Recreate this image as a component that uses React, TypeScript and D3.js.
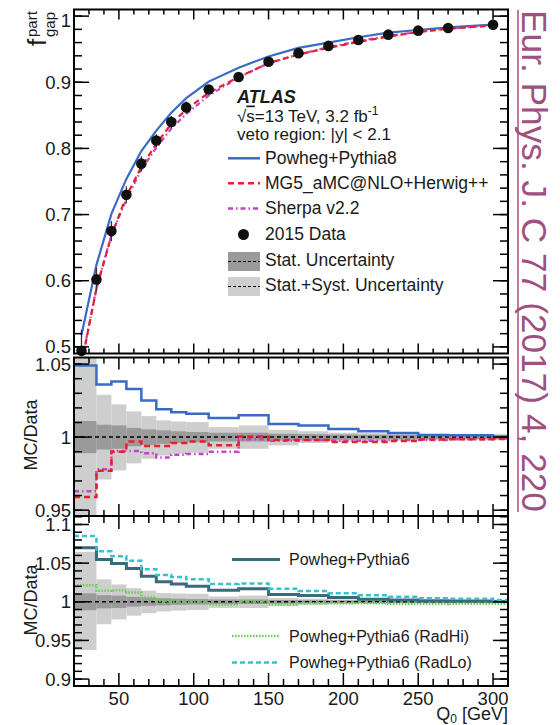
import React from 'react';
import * as d3 from 'd3';

// ---------- data ----------
const Q0 = [25, 35, 45, 55, 65, 75, 85, 95, 110, 130, 150, 170, 190, 210, 230, 250, 270, 300];
const binEdges = [20, 35, 45, 55, 65, 75, 85, 95, 110, 130, 150, 170, 190, 210, 230, 250, 270, 300, 310];

const fgapData = [0.494, 0.602, 0.675, 0.730, 0.777, 0.812, 0.840, 0.862, 0.889, 0.908, 0.931, 0.944, 0.955, 0.964, 0.972, 0.978, 0.982, 0.987];
const fgapPowhegPythia8 = [0.518, 0.624, 0.701, 0.754, 0.796, 0.827, 0.854, 0.876, 0.901, 0.922, 0.939, 0.952, 0.960, 0.968, 0.975, 0.979, 0.983, 0.987];
const fgapMG5Herwig = [0.474, 0.588, 0.668, 0.728, 0.772, 0.807, 0.837, 0.859, 0.884, 0.908, 0.929, 0.942, 0.952, 0.961, 0.969, 0.976, 0.981, 0.986];
const fgapSherpa = [0.476, 0.589, 0.669, 0.723, 0.768, 0.801, 0.830, 0.852, 0.880, 0.907, 0.929, 0.942, 0.953, 0.962, 0.970, 0.976, 0.981, 0.986];

const ratioPowhegPythia8 = [1.049, 1.036, 1.038, 1.033, 1.025, 1.019, 1.017, 1.016, 1.013, 1.015, 1.009, 1.008, 1.0055, 1.004, 1.0028, 1.0015, 1.0012, 1.0003];
const ratioMG5Herwig = [0.959, 0.977, 0.990, 0.997, 0.994, 0.994, 0.996, 0.997, 0.9945, 1.0005, 0.998, 0.998, 0.9967, 0.9967, 0.9973, 0.9984, 0.9985, 0.9987];
const ratioSherpa = [0.963, 0.978, 0.9905, 0.9905, 0.989, 0.986, 0.988, 0.9885, 0.990, 0.9985, 0.9975, 0.998, 0.9975, 0.9975, 0.998, 0.998, 0.9985, 0.999];

const ratioPowhegPythia6 = [1.070, 1.0547, 1.0496, 1.043, 1.033, 1.026, 1.023, 1.020, 1.015, 1.017, 1.0095, 1.008, 1.0055, 1.0034, 1.0022, 1.0014, 1.001, 1.0004];
const ratioPythia6RadHi = [1.0215, 1.0142, 1.015, 1.012, 1.0056, 1.0013, 1.000, 1.000, 0.9966, 1.001, 0.9966, 0.998, 0.998, 0.998, 0.997, 0.997, 0.9975, 0.9975];
const ratioPythia6RadLo = [1.085, 1.0655, 1.059, 1.053, 1.042, 1.0345, 1.032, 1.029, 1.023, 1.0237, 1.017, 1.014, 1.011, 1.0086, 1.0065, 1.0047, 1.004, 1.0022];

const statUnc = [0.011, 0.0085, 0.008, 0.0063, 0.0053, 0.0046, 0.004, 0.0035, 0.003, 0.003, 0.0023, 0.002, 0.0018, 0.0016, 0.0015, 0.0014, 0.0013, 0.0013];
const totUncUp = [0.0645, 0.029, 0.0224, 0.0176, 0.0144, 0.0114, 0.0107, 0.0103, 0.0068, 0.008, 0.005, 0.004, 0.003, 0.0027, 0.0024, 0.0022, 0.002, 0.002];
const totUncDown = [0.0625, 0.029, 0.0228, 0.018, 0.0148, 0.0126, 0.0114, 0.0107, 0.008, 0.008, 0.0057, 0.004, 0.003, 0.0027, 0.0024, 0.0022, 0.002, 0.002];

const xMajorTicks = [50, 100, 150, 200, 250, 300];
const xTickLabels = ['50', '100', '150', '200', '250', '300'];
const topYTicks = [0.5, 0.6, 0.7, 0.8, 0.9, 1.0];
const topYLabels = ['0.5', '0.6', '0.7', '0.8', '0.9', '1'];
const midYTicks = [0.95, 1.0, 1.05];
const midYLabels = ['0.95', '1', '1.05'];
const botYTicks = [0.9, 0.95, 1.0, 1.05, 1.1];
const botYLabels = ['0.9', '0.95', '1', '1.05', '1.1'];

// ---------- layout ----------
const FONT = "'Liberation Sans', Arial, Helvetica, sans-serif";
const X0 = 74, X1 = 508;
const x = d3.scaleLinear().domain([20, 310]).range([X0, X1]);
const P_TOP = { y0: 9.5, y1: 353.5 };
const P_MID = { y0: 357.5, y1: 516 };
const P_BOT = { y0: 516, y1: 686 };
const yTop = d3.scaleLinear().domain([0.49, 1.01]).range([P_TOP.y1, P_TOP.y0]);
const yMid = d3.scaleLinear().domain([0.946, 1.0545]).range([P_MID.y1, P_MID.y0]);
const yBot = d3.scaleLinear().domain([0.891, 1.111]).range([P_BOT.y1, P_BOT.y0]);

const C_BLUE = '#3a6bc4';
const C_RED = '#e8202a';
const C_MAG = '#c444c8';
const C_TEAL = '#3b6a7a';
const C_CYAN = '#36c2cc';
const C_GREEN = '#6acd58';
const C_DARK = '#9a9a9a';
const C_LIGHT = '#cecece';
const C_TXT = '#1a1a1a';

function stepPath(vals: number[], y: any) {
  const pts: [number, number][] = vals.map((v, i) => [binEdges[i], v]);
  pts.push([binEdges[binEdges.length - 1], vals[vals.length - 1]]);
  return d3.line<[number, number]>().x(d => x(d[0])).y(d => y(d[1])).curve(d3.curveStepAfter)(pts) || '';
}

function graphPath(vals: number[], y: any) {
  const pts: [number, number][] = vals.map((v, i) => [Q0[i], v]);
  return d3.line<[number, number]>().x(d => x(d[0])).y(d => y(d[1]))(pts) || '';
}

function Bands({ y }: { y: any }) {
  return (
    <g>
      {binEdges.slice(0, -1).map((e, i) => {
        const xa = x(e), xb = x(binEdges[i + 1]);
        return <rect key={'t' + i} x={xa} width={xb - xa} y={y(1 + totUncUp[i])} height={y(1 - totUncDown[i]) - y(1 + totUncUp[i])} fill={C_LIGHT} />;
      })}
      {binEdges.slice(0, -1).map((e, i) => {
        const xa = x(e), xb = x(binEdges[i + 1]);
        return <rect key={'s' + i} x={xa} width={xb - xa} y={y(1 + statUnc[i])} height={y(1 - statUnc[i]) - y(1 + statUnc[i])} fill={C_DARK} />;
      })}
      <line x1={X0} x2={X1} y1={y(1)} y2={y(1)} stroke="#000" strokeWidth={1.5} strokeDasharray="4,3" />
    </g>
  );
}

function Frame({ p, y, yTicks, yLabels, yMinorStep, xLabels, xMajLen, xMinLen, topLabelShift }: any) {
  const [d0, d1] = y.domain();
  const yMinor = d3.range(Math.ceil(d0 / yMinorStep - 1e-6) * yMinorStep, d1 + 1e-9, yMinorStep);
  const xMinor = d3.range(20, 311, 10);
  const els: any[] = [];
  yMinor.forEach((v: number, i: number) => {
    const yy = y(v);
    els.push(<line key={'yl' + i} x1={X0} x2={X0 + 8} y1={yy} y2={yy} stroke="#000" strokeWidth={1.5} />);
    els.push(<line key={'yr' + i} x1={X1} x2={X1 - 8} y1={yy} y2={yy} stroke="#000" strokeWidth={1.5} />);
  });
  yTicks.forEach((v: number, i: number) => {
    const yy = y(v);
    els.push(<line key={'YL' + i} x1={X0} x2={X0 + 15} y1={yy} y2={yy} stroke="#000" strokeWidth={1.5} />);
    els.push(<line key={'YR' + i} x1={X1} x2={X1 - 15} y1={yy} y2={yy} stroke="#000" strokeWidth={1.5} />);
    const shift = topLabelShift && Math.abs(v - 1) < 1e-9 ? topLabelShift : 0;
    els.push(
      <text key={'YT' + i} x={X0 - 3} y={yy + shift} textAnchor="end" dominantBaseline="central" fontSize={18.5} fontFamily={FONT} fill={C_TXT}>{yLabels[i]}</text>
    );
  });
  xMinor.forEach((v: number, i: number) => {
    const major = xMajorTicks.includes(v);
    const len = major ? xMajLen : xMinLen;
    const xx = x(v);
    els.push(<line key={'xb' + i} x1={xx} x2={xx} y1={p.y1} y2={p.y1 - len} stroke="#000" strokeWidth={1.5} />);
    els.push(<line key={'xt' + i} x1={xx} x2={xx} y1={p.y0} y2={p.y0 + len} stroke="#000" strokeWidth={1.5} />);
  });
  if (xLabels) {
    xMajorTicks.forEach((v, i) => {
      els.push(<text key={'XT' + i} x={x(v)} y={p.y1 + 19} textAnchor="middle" fontSize={18.5} fontFamily={FONT} fill={C_TXT}>{xTickLabels[i]}</text>);
    });
  }
  els.push(<rect key="frame" x={X0} y={p.y0} width={X1 - X0} height={p.y1 - p.y0} fill="none" stroke="#000" strokeWidth={2} />);
  return <g>{els}</g>;
}

export default function App() {
  const legendX = 228;
  return (
    <svg width={560} height={725} style={{ position: 'absolute', left: 0, top: 0, background: '#fff' }} fontFamily={FONT}>
      <defs>
        <clipPath id="cTop"><rect x={X0} y={P_TOP.y0} width={X1 - X0} height={P_TOP.y1 - P_TOP.y0} /></clipPath>
        <clipPath id="cMid"><rect x={X0} y={P_MID.y0} width={X1 - X0} height={P_MID.y1 - P_MID.y0} /></clipPath>
        <clipPath id="cBot"><rect x={X0} y={P_BOT.y0} width={X1 - X0} height={P_BOT.y1 - P_BOT.y0} /></clipPath>
      </defs>
      <rect x={0} y={0} width={560} height={725} fill="#fff" />

      {/* ---------- top panel ---------- */}
      <g clipPath="url(#cTop)">
        <path d={graphPath(fgapPowhegPythia8, yTop)} fill="none" stroke={C_BLUE} strokeWidth={2.2} />
        <path d={graphPath(fgapSherpa, yTop)} fill="none" stroke={C_MAG} strokeWidth={2.2} strokeDasharray="5,3,1.5,3" />
        <path d={graphPath(fgapMG5Herwig, yTop)} fill="none" stroke={C_RED} strokeWidth={2.2} strokeDasharray="6,4" />
      </g>
      {Q0.map((q, i) => (
        <line key={'eb' + i} x1={x(q)} x2={x(q)} y1={yTop(fgapData[i] * (1 + totUncUp[i]))} y2={Math.min(P_TOP.y1, yTop(fgapData[i] * (1 - totUncDown[i])))} stroke="#333" strokeWidth={1.3} />
      ))}
      {Q0.map((q, i) => (
        <circle key={'pt' + i} cx={x(q)} cy={yTop(fgapData[i])} r={5.3} fill="#111" />
      ))}
      <Frame p={P_TOP} y={yTop} yTicks={topYTicks} yLabels={topYLabels} yMinorStep={0.02} xLabels={false} xMajLen={10} xMinLen={5} topLabelShift={4} />

      {/* legend */}
      <text x={237} y={102.5} fontSize={18} fontWeight="bold" fontStyle="italic" fill={C_TXT}>ATLAS</text>
      <text x={237} y={121.5} fontSize={17} fill={C_TXT}>
        √<tspan style={{ textDecoration: 'overline' }}>s</tspan>=13 TeV, 3.2 fb<tspan fontSize={12} dy={-7}>-1</tspan>
      </text>
      <text x={237} y={139.5} fontSize={17} fill={C_TXT}>veto region: |y| &lt; 2.1</text>

      <line x1={legendX} x2={legendX + 32} y1={158.3} y2={158.3} stroke={C_BLUE} strokeWidth={2.5} />
      <text x={265} y={164} fontSize={17.5} fill={C_TXT}>Powheg+Pythia8</text>
      <line x1={legendX} x2={legendX + 32} y1={183.3} y2={183.3} stroke={C_RED} strokeWidth={2.5} strokeDasharray="6,4" />
      <text x={265} y={189} fontSize={17.5} fill={C_TXT}>MG5_aMC@NLO+Herwig++</text>
      <line x1={legendX} x2={legendX + 32} y1={208.5} y2={208.5} stroke={C_MAG} strokeWidth={2.5} strokeDasharray="5,3,1.5,3" />
      <text x={265} y={214} fontSize={17.5} fill={C_TXT}>Sherpa v2.2</text>
      <circle cx={243.5} cy={234.5} r={5.5} fill="#111" />
      <text x={265} y={240} fontSize={17.5} fill={C_TXT}>2015 Data</text>
      <rect x={legendX} y={252} width={32} height={19} fill={C_DARK} />
      <line x1={legendX} x2={legendX + 32} y1={261.5} y2={261.5} stroke="#000" strokeWidth={1.2} strokeDasharray="3,2" />
      <text x={265} y={265.5} fontSize={17.5} fill={C_TXT}>Stat. Uncertainty</text>
      <rect x={legendX} y={277} width={32} height={19} fill={C_LIGHT} />
      <line x1={legendX} x2={legendX + 32} y1={286.5} y2={286.5} stroke="#000" strokeWidth={1.2} strokeDasharray="3,2" />
      <text x={265} y={290.5} fontSize={17.5} fill={C_TXT}>Stat.+Syst. Uncertainty</text>

      {/* y title top */}
      <text transform="translate(46,46) rotate(-90)" fontSize={26} fill={C_TXT}>f</text>
      <text transform="translate(36.5,37) rotate(-90)" fontSize={15} fill={C_TXT}>part</text>
      <text transform="translate(55,37) rotate(-90)" fontSize={15} fill={C_TXT}>gap</text>

      {/* ---------- middle panel ---------- */}
      <g clipPath="url(#cMid)">
        <Bands y={yMid} />
        <path d={stepPath(ratioPowhegPythia8, yMid)} fill="none" stroke={C_BLUE} strokeWidth={2.5} />
        <path d={stepPath(ratioSherpa, yMid)} fill="none" stroke={C_MAG} strokeWidth={2.5} strokeDasharray="5,3,1.5,3" />
        <path d={stepPath(ratioMG5Herwig, yMid)} fill="none" stroke={C_RED} strokeWidth={2.5} strokeDasharray="6,4" />
      </g>
      <Frame p={P_MID} y={yMid} yTicks={midYTicks} yLabels={midYLabels} yMinorStep={0.01} xLabels={false} xMajLen={12} xMinLen={6} />
      <text transform="translate(37,435) rotate(-90)" textAnchor="middle" fontSize={18} fill={C_TXT}>MC/Data</text>

      {/* ---------- bottom panel ---------- */}
      <g clipPath="url(#cBot)">
        <Bands y={yBot} />
        <path d={stepPath(ratioPythia6RadHi, yBot)} fill="none" stroke={C_GREEN} strokeWidth={2.5} strokeDasharray="1.5,1.5" />
        <path d={stepPath(ratioPowhegPythia6, yBot)} fill="none" stroke={C_TEAL} strokeWidth={3} />
        <path d={stepPath(ratioPythia6RadLo, yBot)} fill="none" stroke={C_CYAN} strokeWidth={2.5} strokeDasharray="5,3" />
      </g>
      <Frame p={P_BOT} y={yBot} yTicks={botYTicks} yLabels={botYLabels} yMinorStep={0.01} xLabels={true} xMajLen={13} xMinLen={7} />
      <text transform="translate(37,600) rotate(-90)" textAnchor="middle" fontSize={18} fill={C_TXT}>MC/Data</text>

      <line x1={232} x2={280} y1={559.5} y2={559.5} stroke={C_TEAL} strokeWidth={3} />
      <text x={289} y={565} fontSize={16} fill={C_TXT}>Powheg+Pythia6</text>
      <line x1={232} x2={280} y1={636} y2={636} stroke={C_GREEN} strokeWidth={2.5} strokeDasharray="1.5,1.5" />
      <text x={289} y={642} fontSize={16} fill={C_TXT}>Powheg+Pythia6 (RadHi)</text>
      <line x1={232} x2={280} y1={662.5} y2={662.5} stroke={C_CYAN} strokeWidth={2.5} strokeDasharray="5,3" />
      <text x={289} y={668} fontSize={16} fill={C_TXT}>Powheg+Pythia6 (RadLo)</text>

      {/* x title */}
      <text x={X1} y={719.5} textAnchor="end" fontSize={18} fill={C_TXT}>
        Q<tspan fontSize={12} dy={3}>0</tspan><tspan dy={-3}> [GeV]</tspan>
      </text>

      {/* citation */}
      <text transform="translate(522,10) rotate(90)" fontSize={35} fill="#a05080" textLength={502} lengthAdjust="spacingAndGlyphs">Eur. Phys. J. C 77 (2017) 4, 220</text>
      <line x1={518} x2={518} y1={10} y2={512} stroke="#a05080" strokeWidth={1.5} />
    </svg>
  );
}
